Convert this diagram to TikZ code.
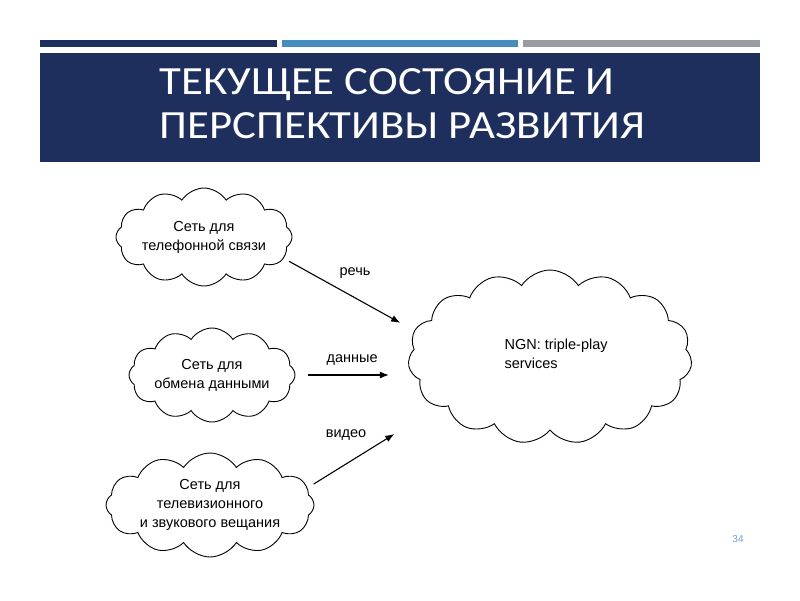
\documentclass[tikz,border=0pt]{standalone}
\usepackage{fontspec}
\setmainfont{Liberation Sans}
\newfontfamily\titlefont[FakeStretch=1.12]{Carlito}
\usetikzlibrary{arrows.meta,shapes.symbols}
\definecolor{navy}{RGB}{30,47,94}
\definecolor{barblue}{RGB}{70,140,190}
\definecolor{bargray}{RGB}{152,156,162}
\definecolor{pagenum}{RGB}{120,160,205}

\begin{document}
\begin{tikzpicture}[
  >={Latex[length=9pt,width=7pt]},
  x=1pt,
  y=-1pt,
  every node/.style={font=\fontsize{14.5}{19}\selectfont, align=center},
  net/.style={
    draw,
    cloud,
    cloud puffs=12,
    cloud puff arc=115,
    cloud ignores aspect,
    line width=0.9pt,
    inner sep=0pt
  },
  arrow/.style={->, line width=1.1pt},
  heading/.style={
    text=white,
    anchor=west,
    align=left,
    font=\titlefont\fontsize{40}{44}\selectfont
  }
]

\fill[white] (0,0) rectangle (800,600);
\useasboundingbox (0,0) rectangle (800,600);

% header bars and title box
\fill[navy] (40,40) rectangle (277,47);
\fill[barblue] (282,40) rectangle (518,47);
\fill[bargray] (523,40) rectangle (760,47);
\fill[navy] (40,53) rectangle (760,162);
\node[heading] (title) at (156,104) {ТЕКУЩЕЕ СОСТОЯНИЕ И\\ПЕРСПЕКТИВЫ РАЗВИТИЯ};

% networks
\node[net, minimum width=174pt, minimum height=98pt] (tel) at (204,237) {Сеть для\\телефонной связи};
\node[net, minimum width=166pt, minimum height=94pt] (data) at (212,375) {Сеть для\\обмена данными};
\node[net, minimum width=208pt, minimum height=104pt] (tv) at (210,505) {Сеть для\\телевизионного\\и звукового вещания};
\node[net, cloud puffs=15, minimum width=284pt, minimum height=174pt] (ngn) at (550,357) {};
\node[align=left, anchor=west] (ngntext) at (501,354) {NGN: triple-play\\services};

\draw[arrow, shorten <=6pt, shorten >=16pt] (tel.-15) -- (ngn.169)
  node[midway, above=12pt, xshift=6pt] {речь};
\draw[arrow, shorten <=13pt, shorten >=20pt] (data.east) -- (data.east -| ngn.west)
  node[midway, above=6pt] {данные};
\draw[arrow, shorten <=7pt, shorten >=52pt] (tv.10) -- (ngn.204)
  node[midway, above left=3pt] {видео};

\node[text=pagenum, font=\fontsize{10}{12}\selectfont] (page) at (738,539) {34};

\end{tikzpicture}
\end{document}
